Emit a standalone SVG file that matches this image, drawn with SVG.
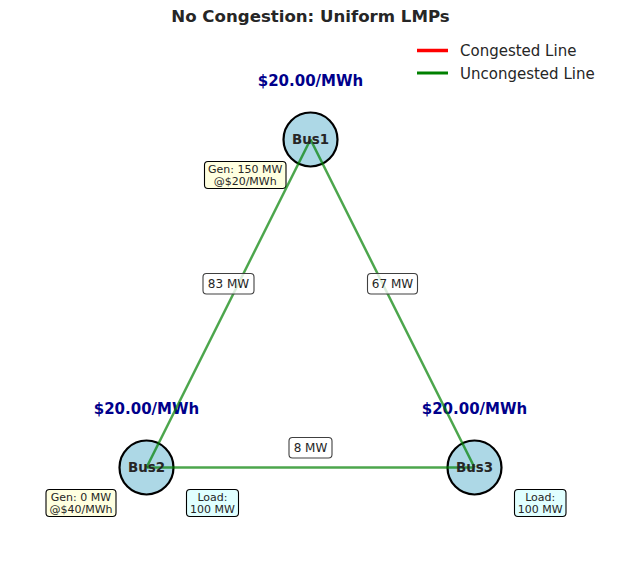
<svg xmlns="http://www.w3.org/2000/svg" width="621" height="587" viewBox="0 0 621 587">
<style>
text{font-family:"DejaVu Sans","Liberation Sans",sans-serif;}
.title{font-size:16.6px;font-weight:bold;fill:#262626;text-anchor:middle;}
.lmp{font-size:15px;font-weight:bold;fill:#00008b;text-anchor:middle;}
.bus{fill:#add8e6;stroke:#000;stroke-width:2.2;}
.busl{font-size:13.4px;font-weight:bold;fill:#262626;text-anchor:middle;}
.line{stroke:#008000;stroke-opacity:0.7;stroke-width:2.5;fill:none;}
.fbox{fill:#fff;fill-opacity:0.8;stroke:#404040;stroke-width:1.1;}
.ftxt{font-size:12px;fill:#262626;text-anchor:middle;}
.gbox{fill:#ffffe0;stroke:#000;stroke-width:1.1;}
.lbox{fill:#e0ffff;stroke:#000;stroke-width:1.1;}
.btxt{font-size:11px;fill:#262626;text-anchor:middle;}
.leg{font-size:15px;fill:#262626;}
</style>
<rect width="621" height="587" fill="#fff"/>
<text class="title" x="310.5" y="22">No Congestion: Uniform LMPs</text>
<g id="bus1">
<circle class="bus" cx="310.5" cy="139.5" r="27"/>
<text class="lmp" x="310.5" y="85.5">$20.00/MWh</text>
<rect class="gbox" x="204.5" y="161.5" width="81.5" height="27" rx="3.5"/>
<text class="btxt" x="245.2" y="172.5">Gen: 150 MW</text>
<text class="btxt" x="245.2" y="184.5">@$20/MWh</text>
</g>
<g id="bus2">
<circle class="bus" cx="146.5" cy="467.5" r="27"/>
<text class="lmp" x="146.5" y="413.5">$20.00/MWh</text>
<rect class="gbox" x="46" y="489.5" width="70" height="27" rx="3.5"/>
<text class="btxt" x="81" y="500.5">Gen: 0 MW</text>
<text class="btxt" x="81" y="512.5">@$40/MWh</text>
<rect class="lbox" x="186.5" y="489.5" width="52" height="27" rx="3.5"/>
<text class="btxt" x="212.5" y="500.5">Load:</text>
<text class="btxt" x="212.5" y="512.5">100 MW</text>
</g>
<g id="bus3">
<circle class="bus" cx="474.5" cy="467.5" r="27"/>
<text class="lmp" x="474.5" y="413.5">$20.00/MWh</text>
<rect class="lbox" x="514.5" y="489.5" width="51.5" height="27" rx="3.5"/>
<text class="btxt" x="540.2" y="500.5">Load:</text>
<text class="btxt" x="540.2" y="512.5">100 MW</text>
</g>
<g id="connectors">
<line class="line" x1="310.5" y1="139.5" x2="146.5" y2="467.5"/>
<line class="line" x1="310.5" y1="139.5" x2="474.5" y2="467.5"/>
<line class="line" x1="146.5" y1="467.5" x2="474.5" y2="467.5"/>
<g id="flow-1-2"><rect class="fbox" x="203" y="273.5" width="51" height="20.5" rx="3.5"/><text class="ftxt" x="228.5" y="288">83 MW</text></g>
<g id="flow-1-3"><rect class="fbox" x="367.5" y="273.5" width="50" height="20.5" rx="3.5"/><text class="ftxt" x="392.5" y="288">67 MW</text></g>
<g id="flow-2-3"><rect class="fbox" x="289" y="437.5" width="43" height="20.5" rx="3.5"/><text class="ftxt" x="310.5" y="452">8 MW</text></g>
</g>
<g id="bus-labels">
<text id="bus1-label" class="busl" x="310.5" y="144.3">Bus1</text>
<text id="bus2-label" class="busl" x="146.5" y="472.3">Bus2</text>
<text id="bus3-label" class="busl" x="474.5" y="472.3">Bus3</text>
</g>
<g id="legend">
<line x1="417" y1="50.5" x2="448" y2="50.5" stroke="#ff0000" stroke-width="3.5"/>
<text class="leg" x="460" y="56">Congested Line</text>
<line x1="417" y1="73" x2="448" y2="73" stroke="#008000" stroke-width="3"/>
<text class="leg" x="460" y="78.5">Uncongested Line</text>
</g>
</svg>
